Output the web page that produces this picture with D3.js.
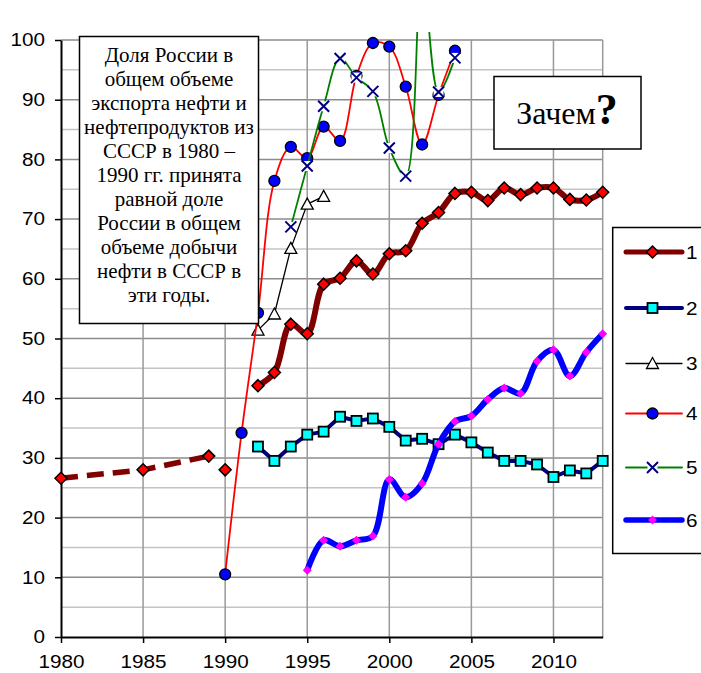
<!DOCTYPE html>
<html>
<head>
<meta charset="utf-8">
<script src="https://cdn.jsdelivr.net/npm/d3@7"></script>
<style>
  body { margin: 0; background: #fff; }
  svg { display: block; }
</style>
</head>
<body>
<svg id="chart" width="701" height="673"></svg>
<script>
// --- data ---
const s1DashYears = [1980, 1985, 1989];
const s1DashValues = [26.6, 28.0, 30.3];
const s1LoneYear = [1990];
const s1LoneValue = [28.0];
const s1Years = d3.range(1992, 2014);
const s1Values = [42.1, 44.3, 52.4, 50.8, 59.1, 60.1, 63.0, 60.8, 64.2, 64.7, 69.3,
                  71.1, 74.3, 74.5, 73.1, 75.2, 74.1, 75.2, 75.2, 73.3, 73.2, 74.5];
const s2Years = d3.range(1992, 2014);
const s2Values = [31.9, 29.5, 31.9, 33.9, 34.4, 36.9, 36.2, 36.6, 35.2, 32.9, 33.2,
                  32.3, 33.9, 32.6, 30.9, 29.5, 29.5, 28.9, 26.8, 27.9, 27.4, 29.5];
const s3Years = [1992, 1993, 1994, 1995, 1996];
const s3Values = [51.4, 54.1, 65.1, 72.5, 73.8];
const s4Years = d3.range(1990, 2005);
const s4Values = [10.5, 34.2, 54.3, 76.4, 82.1, 80.2, 85.5, 83.1, 94.0, 99.5, 98.9,
                  92.2, 82.5, 90.8, 98.2];
const s5Years = d3.range(1994, 2005);
const s5Values = [68.7, 78.9, 88.9, 96.9, 93.7, 91.4, 81.9, 77.2, 112, 91.3, 97.0];
const s6Years = d3.range(1995, 2014);
const s6Values = [11.2, 16.2, 15.2, 16.2, 16.9, 26.4, 23.4, 25.7, 32.3, 36.1, 37.0,
                  39.8, 41.7, 40.8, 46.2, 48.1, 43.7, 47.7, 50.8];

const xTicks = [1980, 1985, 1990, 1995, 2000, 2005, 2010];
const yTicks = [0, 10, 20, 30, 40, 50, 60, 70, 80, 90, 100];
const legendLabels = ['1', '2', '3', '4', '5', '6'];
const noteLines = ['Доля России в', 'общем объеме', 'экспорта нефти и',
  'нефтепродуктов из', 'СССР в 1980 –', '1990 гг. принята', 'равной доле',
  'России в общем', 'объеме добычи', 'нефти в СССР в', 'эти годы.'];

const sansFont = '"Liberation Sans", Arial, sans-serif';
const serifFont = '"Liberation Serif", "Times New Roman", serif';
const stretch = 1.15; // the sans labels in the picture are wide

const svg = d3.select('#chart');
const x = d3.scaleLinear().domain([1980, 2013]).range([61, 602.7]);
const y = d3.scaleLinear().domain([0, 100]).range([637, 40]);

// grid
const grid = svg.append('g');
grid.selectAll('line.h')
  .data(d3.range(5, 101, 5))
  .join('line')
  .attr('x1', x(1980)).attr('x2', x(2013))
  .attr('y1', d => y(d)).attr('y2', d => y(d))
  .attr('stroke', d => d % 10 === 0 ? '#8c8c8c' : '#c4c4c4')
  .attr('stroke-width', 1.5);
grid.selectAll('line.v')
  .data([1985, 1990, 1995, 2000, 2005, 2010, 2013])
  .join('line')
  .attr('x1', d => x(d)).attr('x2', d => x(d))
  .attr('y1', y(100)).attr('y2', y(0))
  .attr('stroke', '#999')
  .attr('stroke-width', 1.5);

// axes
const yAxis = svg.append('g')
  .attr('transform', `translate(${x(1980)},0)`)
  .call(d3.axisLeft(y).tickValues(yTicks).tickSize(6).tickSizeOuter(0).tickPadding(10));
const xAxis = svg.append('g')
  .attr('transform', `translate(0,${y(0)})`)
  .call(d3.axisBottom(x).tickValues(xTicks).tickFormat(d3.format('d')).tickSize(6).tickSizeOuter(0));
[yAxis, xAxis].forEach(a => {
  a.selectAll('text').style('font-family', sansFont).style('font-size', '18px').attr('fill', '#000')
    .attr('transform', `scale(${stretch},1)`);
  a.selectAll('line').attr('stroke', '#000').attr('stroke-width', 1.5);
  a.select('.domain').attr('stroke', '#000').attr('stroke-width', 2);
});
yAxis.selectAll('text').attr('x', -16 / stretch);
xAxis.selectAll('text').attr('y', 31).attr('dy', null);

// marker helpers
function diamond(g, cx, cy, h, fill, stroke) {
  g.append('path')
    .attr('d', `M${cx},${cy - h}L${cx + h},${cy}L${cx},${cy + h}L${cx - h},${cy}Z`)
    .attr('fill', fill).attr('stroke', stroke || 'none').attr('stroke-width', 1.5);
}
function square(g, cx, cy, s) {
  g.append('rect').attr('x', cx - s / 2).attr('y', cy - s / 2)
    .attr('width', s).attr('height', s)
    .attr('fill', '#00ffff').attr('stroke', '#000').attr('stroke-width', 1.8);
}
function triangle(g, cx, cy) {
  g.append('path')
    .attr('d', `M${cx},${cy - 6}L${cx + 6},${cy + 5}L${cx - 6},${cy + 5}Z`)
    .attr('fill', '#fff').attr('stroke', '#000').attr('stroke-width', 1.3);
}
function circle(g, cx, cy) {
  g.append('circle').attr('cx', cx).attr('cy', cy).attr('r', 5.5)
    .attr('fill', '#0000ff').attr('stroke', '#000').attr('stroke-width', 1.3);
}
function cross(g, cx, cy) {
  g.append('rect').attr('x', cx - 5).attr('y', cy - 5).attr('width', 10).attr('height', 10)
    .attr('fill', '#fff');
  g.append('path')
    .attr('d', `M${cx - 5.5},${cy - 5.5}L${cx + 5.5},${cy + 5.5}M${cx + 5.5},${cy - 5.5}L${cx - 5.5},${cy + 5.5}`)
    .attr('stroke', '#000080').attr('stroke-width', 2).attr('fill', 'none');
}

// series
svg.append('clipPath').attr('id', 'plotclip')
  .append('rect').attr('x', x(1980) - 8).attr('y', 32)
  .attr('width', x(2013) - x(1980) + 16).attr('height', y(0) - 32 + 8);
const plot = svg.append('g').attr('clip-path', 'url(#plotclip)');

const zip = (ys, vs) => ys.map((yr, i) => [yr, vs[i]]);
const smooth = d3.line().x(d => x(d[0])).y(d => y(d[1])).curve(d3.curveCatmullRom.alpha(0.5));
const straight = d3.line().x(d => x(d[0])).y(d => y(d[1]));

function drawSeries(pts, lineGen, color, width, marker, dash) {
  const g = plot.append('g');
  g.append('path').attr('d', lineGen(pts))
    .attr('fill', 'none').attr('stroke', color).attr('stroke-width', width)
    .attr('stroke-linejoin', 'round')
    .attr('stroke-dasharray', dash || null);
  pts.forEach(p => marker(g, x(p[0]), y(p[1])));
}

// 1
drawSeries(zip(s1DashYears, s1DashValues), straight, '#800000', 5.5,
  (g, cx, cy) => diamond(g, cx, cy, 6, '#ff0000', '#000'), '17 9');
drawSeries(zip(s1LoneYear, s1LoneValue), straight, 'none', 0,
  (g, cx, cy) => diamond(g, cx, cy, 6, '#ff0000', '#000'));
drawSeries(zip(s1Years, s1Values), smooth, '#800000', 6,
  (g, cx, cy) => diamond(g, cx, cy, 6, '#ff0000', '#000'));
// 2
drawSeries(zip(s2Years, s2Values), straight, '#000080', 4, (g, cx, cy) => square(g, cx, cy, 10));
// 3
drawSeries(zip(s3Years, s3Values), straight, '#000', 1.3, triangle);
// 4
drawSeries(zip(s4Years, s4Values), smooth, '#ff0000', 1.8, circle);
// 5
drawSeries(zip(s5Years, s5Values), smooth, '#008000', 1.8, cross);
// 6
drawSeries(zip(s6Years, s6Values), smooth, '#0000ff', 6,
  (g, cx, cy) => diamond(g, cx, cy, 4.5, '#ff00ff'));

// note box
const note = svg.append('g');
note.append('rect').attr('x', 79.5).attr('y', 36.5).attr('width', 179).attr('height', 287)
  .attr('fill', '#fff').attr('stroke', '#000').attr('stroke-width', 1.5);
note.selectAll('text').data(noteLines).join('text')
  .attr('x', 169).attr('y', (d, i) => 62 + i * 24)
  .attr('text-anchor', 'middle')
  .style('font-family', serifFont).style('font-size', '21px')
  .text(d => d);

// "Зачем?" box
const why = svg.append('g');
why.append('rect').attr('x', 494).attr('y', 76.5).attr('width', 147).attr('height', 72.5)
  .attr('fill', '#fff').attr('stroke', '#000').attr('stroke-width', 1.5);
const whyText = why.append('text').attr('x', 567).attr('y', 124).attr('text-anchor', 'middle')
  .style('font-family', serifFont);
whyText.append('tspan').style('font-size', '32px').text('Зачем');
whyText.append('tspan').style('font-size', '44px').style('font-weight', 'bold').text('?');

// legend
const legend = svg.append('g');
legend.append('rect').attr('x', 612.7).attr('y', 227.5).attr('width', 120).attr('height', 326)
  .attr('fill', '#fff').attr('stroke', '#000').attr('stroke-width', 1.5);
const legendRows = [
  { color: '#800000', width: 5, marker: (g, cx, cy) => diamond(g, cx, cy, 6, '#ff0000', '#000') },
  { color: '#000080', width: 4, marker: (g, cx, cy) => square(g, cx, cy, 10) },
  { color: '#000', width: 1.3, marker: triangle },
  { color: '#ff0000', width: 1.8, marker: circle },
  { color: '#008000', width: 1.8, marker: cross },
  { color: '#0000ff', width: 5.5, marker: (g, cx, cy) => diamond(g, cx, cy, 4.5, '#ff00ff') }
];
const rowY = [252, 308, 363.5, 413.5, 467.5, 520];
legendRows.forEach((r, i) => {
  const g = legend.append('g');
  g.append('line').attr('x1', 626).attr('x2', 682).attr('y1', rowY[i]).attr('y2', rowY[i])
    .attr('stroke', r.color).attr('stroke-width', r.width).attr('stroke-linecap', 'round');
  r.marker(g, 652.5, rowY[i]);
  g.append('text').attr('transform', `translate(686,${rowY[i] + 6.5}) scale(${stretch},1)`)
    .style('font-family', sansFont).style('font-size', '18px').text(legendLabels[i]);
});
</script>
</body>
</html>
